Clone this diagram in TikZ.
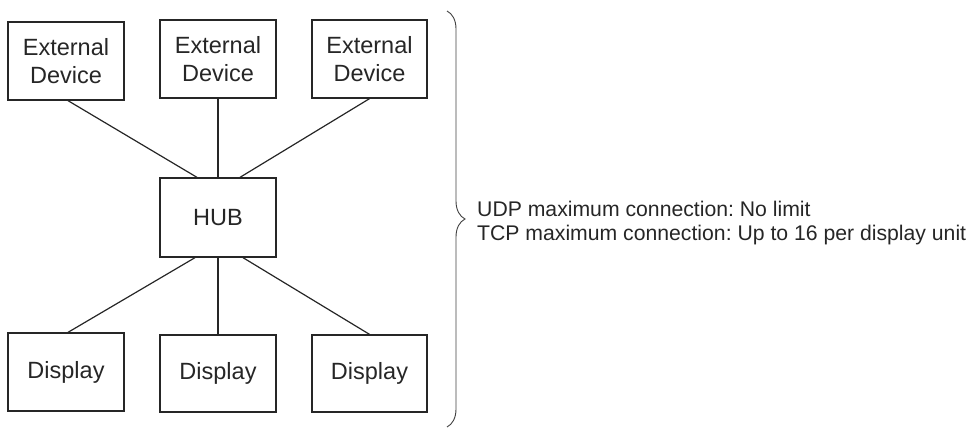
\documentclass[tikz,border=0pt]{standalone}
\usepackage{fontspec}
\setmainfont{Liberation Sans}
\usetikzlibrary{calc,decorations.pathreplacing}
\frenchspacing
\begin{document}
\begin{tikzpicture}[x=1pt,y=-1pt,
  box/.style={draw=black!85,line width=1.3pt,minimum width=116pt,minimum height=78pt,inner sep=0pt,align=center,font=\fontsize{23.5}{27.5}\selectfont,text=black!85},
  link/.style={draw=black!85,line width=1.2pt},
  note/.style={anchor=base west,inner sep=0pt,font=\fontsize{21.2}{24}\selectfont,text=black!85}]
\useasboundingbox (0,0) rectangle (976,428);
\node[box] (ed1) at (66,61) {External\\Device};
\node[box] (ed2) at (218,59) {External\\Device};
\node[box,minimum width=115pt] (ed3) at (369.5,59) {External\\Device};
\node[box,minimum height=79pt] (hub) at (218,217.5) {HUB};
\node[box] (d1) at (66,372) {Display};
\node[box,minimum height=77pt] (d2) at (218,373.5) {Display};
\node[box,minimum width=115pt,minimum height=77pt] (d3) at (369.5,373.5) {Display};
\draw[link] ($(ed1.south)+(2,0)$) -- ($(hub.north)+(-21,0)$);
\draw[link] (ed2.south) -- (hub.north);
\draw[link] (ed3.south) -- ($(hub.north)+(22,0)$);
\draw[link] ($(hub.south)+(-23,0)$) -- ($(d1.north)+(2,0)$);
\draw[link] (hub.south) -- (d2.north);
\draw[link] ($(hub.south)+(25,0)$) -- (d3.north);
\coordinate (bt) at (447,11);
\coordinate (bb) at (447,427);
\draw[draw=black!75,line width=0.9pt,decorate,decoration={brace,amplitude=18pt}] (bt) -- (bb);
\node[note] (udp) at (477,216) {UDP maximum connection: No limit};
\node[note] (tcp) at (477,240) {TCP maximum connection: Up to 16 per display unit};
\end{tikzpicture}
\end{document}
